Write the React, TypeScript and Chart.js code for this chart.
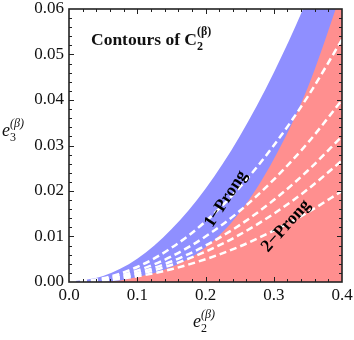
import React, { useEffect, useRef } from "react";
import { Chart, registerables } from "chart.js";
Chart.register(...registerables);

// e2 sample positions
const e2Values = [0, 0.05, 0.1, 0.15, 0.2, 0.25, 0.3, 0.35, 0.4];
// upper edge of the 1-prong (blue) region
const oneProngUpper = [0, 0.0013, 0.0051, 0.0116, 0.0205, 0.032, 0.046, 0.0625, 0.082];
// upper edge of the 2-prong (red) region
const twoProngUpper = [0, 0, 0.0011, 0.0033, 0.0076, 0.0153, 0.027, 0.0428, 0.064];
// contours of C2 (dashed white)
const contourA = [0, 0.00083, 0.0033, 0.0075, 0.0133, 0.0208, 0.03, 0.0408, 0.0533];
const contourB = [0, 0.000625, 0.0025, 0.0056, 0.01, 0.0156, 0.0225, 0.0306, 0.04];
const contourC = [0, 0.0005, 0.002, 0.0045, 0.008, 0.0125, 0.018, 0.0245, 0.032];
const contourD = [0, 0.00042, 0.00167, 0.00375, 0.00667, 0.0104, 0.015, 0.0204, 0.0267];
const contourE = [0, 0.0003, 0.00125, 0.0028, 0.005, 0.0078, 0.0113, 0.0153, 0.02];

const xTickLabels = ["0.0", "0.1", "0.2", "0.3", "0.4"];
const yTickLabels = ["0.00", "0.01", "0.02", "0.03", "0.04", "0.05", "0.06"];

const BLUE = "rgb(143,143,255)";
const RED = "rgb(255,143,143)";
const SERIF = "'Liberation Serif', 'Times New Roman', serif";

const toPts = (ys: number[]) => e2Values.map((x, i) => ({ x, y: ys[i] }));

const decor = {
  id: "decor",
  afterDraw(chart: any) {
    const { ctx, chartArea: a, scales } = chart;
    const xs = scales.x;
    const ys = scales.y;
    ctx.save();
    // frame
    ctx.strokeStyle = "#222";
    ctx.lineWidth = 1.6;
    ctx.strokeRect(a.left, a.top, a.right - a.left, a.bottom - a.top);
    // ticks
    ctx.lineWidth = 1;
    ctx.beginPath();
    for (let i = 1; i < 20; i++) {
      const px = Math.round(xs.getPixelForValue(i * 0.02)) + 0.5;
      const len = i % 5 === 0 ? 5 : 3;
      ctx.moveTo(px, a.bottom);
      ctx.lineTo(px, a.bottom - len);
      ctx.moveTo(px, a.top);
      ctx.lineTo(px, a.top + len);
    }
    for (let i = 1; i < 30; i++) {
      const py = Math.round(ys.getPixelForValue(i * 0.002)) + 0.5;
      const len = i % 5 === 0 ? 5 : 3;
      ctx.moveTo(a.left, py);
      ctx.lineTo(a.left + len, py);
      ctx.moveTo(a.right, py);
      ctx.lineTo(a.right - len, py);
    }
    ctx.stroke();

    // tick labels
    ctx.fillStyle = "#111";
    ctx.font = `17px ${SERIF}`;
    ctx.textAlign = "right";
    ctx.textBaseline = "middle";
    yTickLabels.forEach((t) => {
      ctx.fillText(t, a.left - 5, ys.getPixelForValue(parseFloat(t)));
    });
    ctx.textAlign = "center";
    ctx.textBaseline = "alphabetic";
    xTickLabels.forEach((t) => {
      ctx.fillText(t, xs.getPixelForValue(parseFloat(t)), 300);
    });

    // axis titles
    const axisTitle = (x: number, base: number, sub: string) => {
      ctx.textAlign = "left";
      ctx.font = `italic 18px ${SERIF}`;
      ctx.fillText("e", x, base);
      const w = ctx.measureText("e").width;
      ctx.font = `12px ${SERIF}`;
      ctx.fillText(sub, x + w, base + 5);
      ctx.font = `italic 12px ${SERIF}`;
      ctx.fillText("(β)", x + w, base - 9);
    };
    axisTitle(2, 136, "3");
    axisTitle(193, 327, "2");

    // title annotation
    ctx.textAlign = "left";
    ctx.font = `bold 17.5px ${SERIF}`;
    const t1 = "Contours of C";
    ctx.fillText(t1, 91, 45);
    const tw = ctx.measureText(t1).width;
    ctx.font = `bold 12px ${SERIF}`;
    ctx.fillText("2", 91 + tw, 50);
    ctx.fillText("(β)", 91 + tw, 35);

    // rotated labels
    const rot = (text: string, cx: number, cy: number, deg: number) => {
      ctx.save();
      ctx.translate(cx, cy);
      ctx.rotate((deg * Math.PI) / 180);
      ctx.font = `bold 17.5px ${SERIF}`;
      ctx.textAlign = "center";
      ctx.textBaseline = "middle";
      ctx.fillStyle = "#000";
      ctx.fillText(text, 0, 0);
      ctx.restore();
    };
    rot("1−Prong", 226, 199, -57);
    rot("2−Prong", 286, 226, -48);
    ctx.restore();
  },
};

export default function App() {
  const ref = useRef<HTMLCanvasElement>(null);
  useEffect(() => {
    if (!ref.current) return;
    const dashed = (ys: number[]) => ({
      data: toPts(ys),
      borderColor: "#fff",
      borderWidth: 2.5,
      borderDash: [7, 4],
      pointRadius: 0,
      fill: false,
      cubicInterpolationMode: "monotone" as const,
    });
    const chart = new Chart(ref.current, {
      type: "line",
      data: {
        datasets: [
          dashed(contourA),
          dashed(contourB),
          dashed(contourC),
          dashed(contourD),
          dashed(contourE),
          {
            data: toPts(twoProngUpper),
            borderColor: RED,
            borderWidth: 0,
            backgroundColor: RED,
            pointRadius: 0,
            fill: "origin",
            cubicInterpolationMode: "monotone",
          },
          {
            data: toPts(oneProngUpper),
            borderColor: BLUE,
            borderWidth: 0,
            backgroundColor: BLUE,
            pointRadius: 0,
            fill: "origin",
            cubicInterpolationMode: "monotone",
          },
        ] as any,
      },
      options: {
        animation: false,
        responsive: false,
        layout: { padding: { left: 69, right: 12, top: 9, bottom: 58 } },
        plugins: { legend: { display: false }, tooltip: { enabled: false } },
        scales: {
          x: { type: "linear", min: 0, max: 0.4, display: false },
          y: { type: "linear", min: 0, max: 0.06, display: false },
        },
      },
      plugins: [decor],
    });
    return () => chart.destroy();
  }, []);
  return (
    <div style={{ position: "fixed", left: 0, top: 0, width: 354, height: 340, background: "#fff" }}>
      <canvas ref={ref} width={354} height={340} />
    </div>
  );
}
